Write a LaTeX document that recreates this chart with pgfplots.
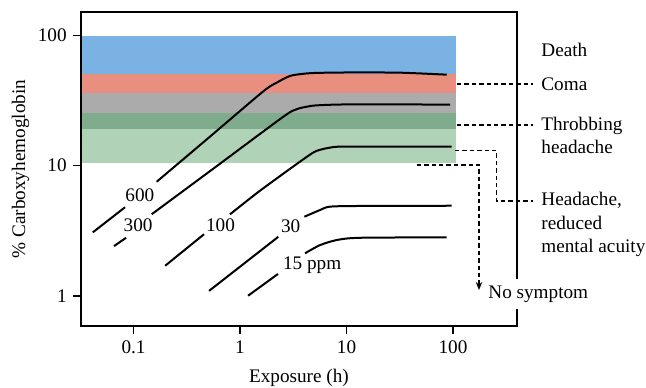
\documentclass[border=0pt]{standalone}
\usepackage{fontspec}
\setmainfont{Liberation Serif}
\usepackage{pgfplots}
\pgfplotsset{compat=1.18}
\usetikzlibrary{arrows.meta}
\definecolor{bandblue}{RGB}{122,178,228}
\definecolor{bandred}{RGB}{232,143,128}
\definecolor{bandgray}{RGB}{171,171,171}
\definecolor{banddkgreen}{RGB}{127,172,141}
\definecolor{bandltgreen}{RGB}{176,210,182}
\begin{document}
\fontsize{9.6}{11.7}\selectfont
\begin{tikzpicture}[x=1pt,y=1pt]
\path[use as bounding box] (-40.5,-30.5) rectangle (282.5,163);
\begin{axis}[
  at={(0,0)}, anchor=south west,
  scale only axis, width=218pt, height=157pt,
  xmode=log, ymode=log,
  xmin=0.0321, xmax=399, ymin=0.585, ymax=152,
  xtick={0.1,1,10,100}, xticklabels={0.1,1,10,100},
  ytick={1,10,100}, yticklabels={1,10,100},
  xminorticks=false, yminorticks=false,
  tick align=outside, tick pos=left, major tick length=3.8pt,
  axis line style={line width=0.8pt},
  every tick/.style={line width=0.8pt, black},
  tick label style={font=\fontsize{9.6}{11}\selectfont},
  /pgf/number format/assume math mode=true,
  axis on top, clip=false,
  xlabel={Exposure (h)}, ylabel={\% Carboxyhemoglobin},
  every axis x label/.style={at={(axis description cs:0.5,-0.1656)}, anchor=center},
  every axis y label/.style={at={(axis description cs:-0.1388,0.5)}, anchor=center, rotate=90},
  label style={font=\fontsize{9.6}{11}\selectfont},
]
% bands
\addplot[draw=none, fill=bandblue] coordinates {(0.0321,50.7) (107,50.7) (107,100) (0.0321,100)} -- cycle;
\addplot[draw=none, fill=bandred] coordinates {(0.0321,36.1) (107,36.1) (107,50.7) (0.0321,50.7)} -- cycle;
\addplot[draw=none, fill=bandgray] coordinates {(0.0321,25.4) (107,25.4) (107,36.1) (0.0321,36.1)} -- cycle;
\addplot[draw=none, fill=banddkgreen] coordinates {(0.0321,19.05) (107,19.05) (107,25.4) (0.0321,25.4)} -- cycle;
\addplot[draw=none, fill=bandltgreen] coordinates {(0.0321,10.4) (107,10.4) (107,19.05) (0.0321,19.05)} -- cycle;
% 600 ppm
\addplot[black, line width=1pt] coordinates {(0.0414,3.07) (0.0832,4.79)};
\addplot[black, line width=1pt, smooth, tension=0.45] coordinates {(0.165,7.53) (0.521,16.7) (1.64,37.1) (2.21,43.5) (2.95,49.0) (3.93,50.9) (5.25,51.7) (10.8,52.1) (31.8,51.9) (87.3,50.1)};
% 300 ppm
\addplot[black, line width=1pt] coordinates {(0.0656,2.41) (0.0851,2.79)};
\addplot[black, line width=1pt, smooth, tension=0.45] coordinates {(0.148,4.23) (0.615,10.03) (2.55,23.8) (3.41,27.2) (4.23,28.4) (5.25,29.1) (10.8,29.6) (93.7,29.5)};
% 100 ppm
\addplot[black, line width=1pt] coordinates {(0.198,1.70) (0.459,2.97)};
\addplot[black, line width=1pt, smooth, tension=0.45] coordinates {(0.806,4.23) (1.54,6.42) (3.93,11.2) (5.25,13.0) (7.52,13.9) (10.8,14.0) (97.2,14.0)};
% 30 ppm
\addplot[black, line width=1pt] coordinates {(0.512,1.09) (2.29,2.84)};
\addplot[black, line width=1pt, smooth, tension=0.45] coordinates {(4.02,4.05) (5.64,4.56) (7.00,4.84) (13.4,4.90) (97.2,4.92)};
% 15 ppm
\addplot[black, line width=1pt] coordinates {(1.19,1.0) (2.27,1.47)};
\addplot[black, line width=1pt, smooth, tension=0.45] coordinates {(4.08,2.12) (5.64,2.45) (8.09,2.68) (13.4,2.79) (87.3,2.81)};
\end{axis}
\tikzset{dl/.style={dash pattern=on 2.2pt off 1.5pt, line width=0.7pt}}
\draw[dl] (188,121) -- (226,121);
\draw[dl] (188,100.5) -- (226,100.5);
\draw[dl] (187,87.65) -- (207.85,87.65) -- (207.85,62.5) -- (226,62.5);
\draw[dl, -{Stealth[length=4pt,width=3.2pt]}] (167.85,80.5) -- (199,80.5) -- (199,18);
\begin{scope}[every node/.style={anchor=base west, inner sep=0pt, font=\fontsize{9.6}{11}\selectfont}]
\node at (230,135) {Death};
\node at (230,118) {Coma};
\node at (230,98) {Throbbing};
\node at (230,86.35) {headache};
\node at (230,60.15) {Headache,};
\node at (230,48.35) {reduced};
\node at (230,36.85) {mental acuity};
\node[fill=white, inner xsep=0pt, inner ysep=3.5pt] at (203.5,13.85) {No symptom};
\node at (22,62.15) {600};
\node at (21.15,47.15) {300};
\node at (62.35,47.15) {100};
\node at (99.85,46.85) {30};
\node at (100.85,28.35) {15 ppm};
\end{scope}
\end{tikzpicture}
\end{document}
